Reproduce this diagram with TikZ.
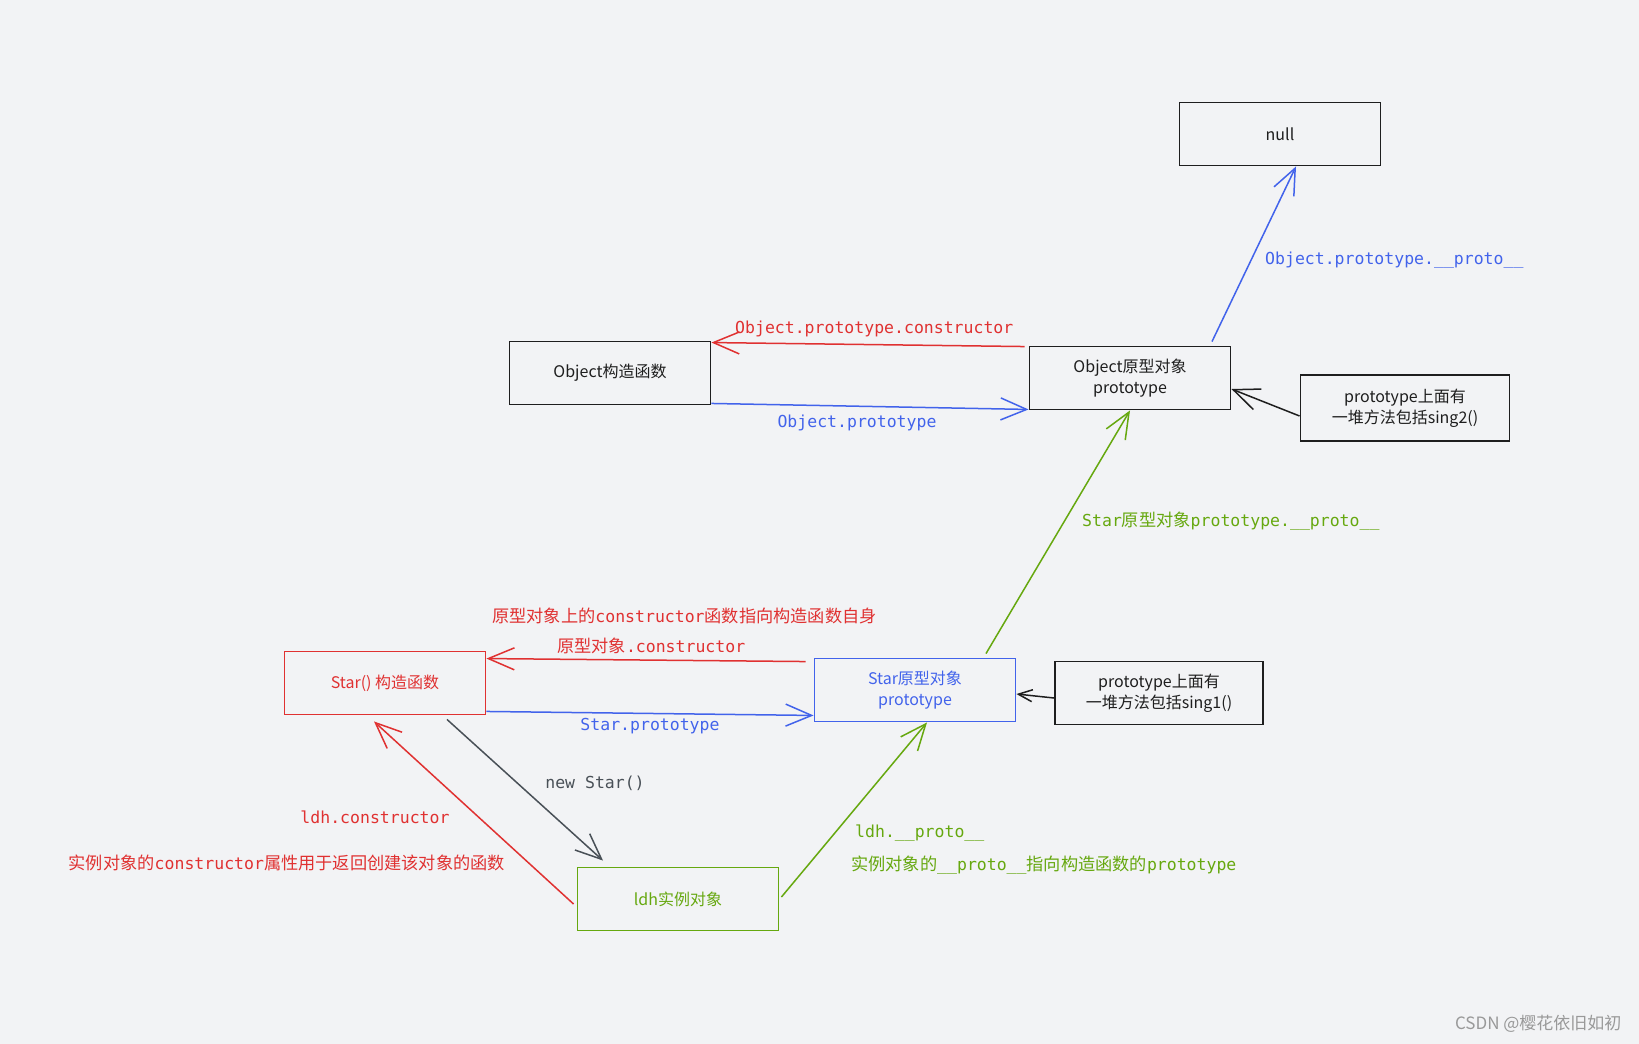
\documentclass[tikz,border=0pt]{standalone}
\usepackage{fontspec}
\setmonofont{DejaVu Sans Mono}
\newfontfamily\cjk{Noto Sans CJK SC}
\usetikzlibrary{arrows.meta}
\definecolor{bgcol}{HTML}{F2F3F5}
\definecolor{exred}{HTML}{E03131}
\definecolor{exblue}{HTML}{4263EB}
\definecolor{exgreen}{HTML}{66A80F}
\definecolor{exgray}{HTML}{495057}
\definecolor{exblack}{HTML}{1E1E1E}
\newcommand{\zh}[1]{{\cjk\fontsize{17.2}{20}\selectfont #1}}
\tikzset{
  box/.style={draw=#1, text=#1, line width=1.9pt, minimum width=201pt,
    minimum height=63pt, inner sep=2pt, align=center,
    font=\fontsize{16}{21}\selectfont\cjk},
  box/.default=exblack,
  lbl/.style={text=#1, inner sep=0pt, font=\fontsize{16.5}{20}\selectfont\ttfamily},
  link/.style={draw=#1, line width=1.5pt, -{Straight Barb[length=26pt,width=22pt]}},
}
\begin{document}
\begin{tikzpicture}[x=1pt, y=-1pt]
      \fill[bgcol] (0,0) rectangle (1639,1044);
      \useasboundingbox (0,0) rectangle (1639,1044);
      % boxes
      \draw
        (1280,134) node[box] (null){null}
        (610,373) node[box] (objctor){Object构造函数}
        (1130,378) node[box] (objproto){Object原型对象\\prototype}
        (1405,408) node[box, minimum width=209pt, minimum height=66pt] (sing2){prototype上面有\\一堆方法包括sing2()}
        (385,683) node[box=exred] (starctor){Star() 构造函数}
        (915,690) node[box=exblue] (starproto){Star原型对象\\prototype}
        (1159,693) node[box, minimum width=208pt] (sing1){prototype上面有\\一堆方法包括sing1()}
        (678,899) node[box=exgreen] (ldh){ldh实例对象};
      % labels
      \draw
        (735,329) node[lbl=exred, anchor=west] (lblobjctor){Object.prototype.constructor}
        (857,423) node[lbl=exblue] (lblobjproto){Object.prototype}
        (1265,260) node[lbl=exblue, anchor=west] (lblnull){Object.prototype.\_\_proto\_\_}
        (1082,521) node[lbl=exgreen, anchor=west] (lblstarup){Star\zh{原型对象}prototype.\_\_proto\_\_}
        (492,616) node[lbl=exred, anchor=west] (lbldescctor){\zh{原型对象上的}constructor\zh{函数指向构造函数自身}}
        (557,646) node[lbl=exred, anchor=west] (lblstarctor){\zh{原型对象}.constructor}
        (650,726) node[lbl=exblue] (lblstarproto){Star.prototype}
        (595,783) node[lbl=exgray] (lblnew){new Star()}
        (375,817) node[lbl=exred] (lblldhctor){ldh.constructor}
        (505,863) node[lbl=exred, anchor=east] (lbldescldh){\zh{实例对象的}constructor\zh{属性用于返回创建该对象的函数}}
        (855,833) node[lbl=exgreen, anchor=west] (lblldhproto){ldh.\_\_proto\_\_}
        (851,865) node[lbl=exgreen, anchor=west] (lbldescproto){\zh{实例对象的}\_\_proto\_\_\zh{指向构造函数的}prototype}
        (1625,1024) node[anchor=east, text=black!40, font=\fontsize{17}{20}\selectfont\cjk] (mark){CSDN @樱花依旧如初};
      % connectors
      \begin{scope}
        \draw[link=exred] ([shift={(-4pt,-1pt)}]objproto.north west) to ([yshift=-2pt]objctor.north east);
        \draw[link=exblue] ([yshift=2pt]objctor.south east) to ([yshift=1pt]objproto.south west);
        \draw[link=exblue] ([shift={(82pt,4pt)}]objproto.north) to ([xshift=16pt]null.south);
        \draw[link=exblack] ([yshift=-8pt]sing2.west) to ([yshift=-11pt]objproto.east);
        \draw[link=exgreen] ([shift={(71pt,4pt)}]starproto.north) to (objproto.south);
        \draw[link=exred] ([shift={(-8pt,-4pt)}]starproto.north west) to ([yshift=-8pt]starctor.north east);
        \draw[link=exblue] ([yshift=4pt]starctor.south east) to ([yshift=7pt]starproto.south west);
        \draw[link=exblack, -{Straight Barb[length=14pt,width=12pt]}] ([yshift=-5pt]sing1.west) to ([yshift=-4pt]starproto.east);
        \draw[link=exgray] ([shift={(62pt,-4pt)}]starctor.south) to ([shift={(-75pt,6pt)}]ldh.north);
        \draw[link=exred] ([shift={(-3pt,-5pt)}]ldh.west) to ([shift={(-11pt,-6pt)}]starctor.south);
        \draw[link=exgreen] ([shift={(2pt,2pt)}]ldh.east) to ([shift={(12pt,0pt)}]starproto.south);
      \end{scope}
    \end{tikzpicture}
\end{document}
